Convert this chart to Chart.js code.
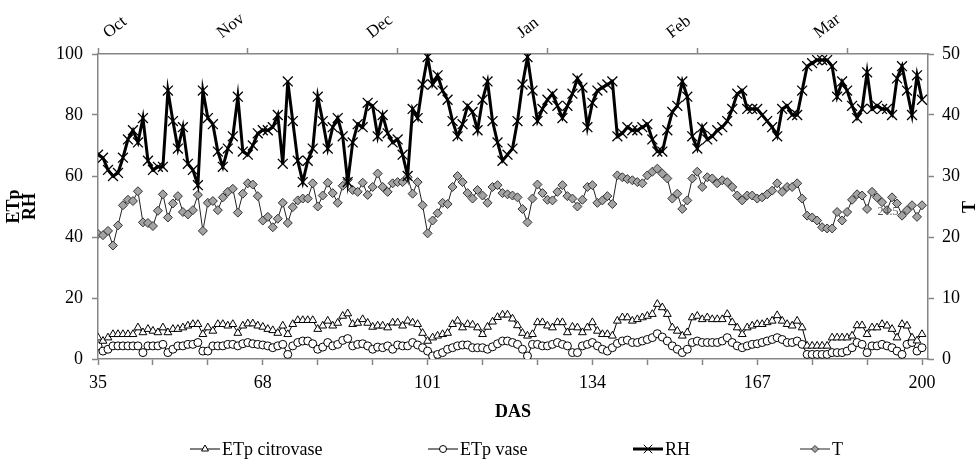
<!DOCTYPE html>
<html>
<head>
<meta charset="utf-8">
<script src="https://cdn.jsdelivr.net/npm/chart.js@4.4.1/dist/chart.umd.min.js"></script>
<style>
html, body { margin: 0; padding: 0; background: #fff; }
canvas { display: block; }
</style>
</head>
<body>
<canvas id="myChart" width="975" height="459"></canvas>
<script>
// days after sowing, one point per day
const das = [];
for (let d = 35; d <= 200; d++) das.push(d);

const etpCitrovase = [
  7, 5.9, 7, 8.1, 8.1, 8.1, 8.1, 8.1, 10.3, 8.7,
  9.8, 9.2, 8.7, 10.3, 8.7, 9.8, 9.8, 10.3, 10.9, 11.4,
  11.4, 8.1, 10.3, 9.2, 11.4, 11.4, 10.9, 11.4, 8.5, 10.9,
  11.6, 11.6, 10.9, 10.5, 9.8, 9.4, 8.5, 10.9, 8.1, 11.4,
  12.7, 12.7, 12.7, 12.7, 9.8, 10.9, 12.5, 10.9, 11.8, 14.1,
  14.9, 11.4, 11.8, 13, 11.8, 10.5, 10.9, 10.9, 10.3, 11.9,
  11.9, 10.9, 12.5, 11.9, 11.4, 8.5, 5.9, 7, 7.6, 8.1,
  8.5, 11.4, 12.5, 10.3, 11.4, 11.2, 10.3, 8.1, 10.5, 12.2,
  13.7, 14.5, 14.5, 13.2, 11, 8.5, 7.6, 8.1, 12, 12,
  10.9, 10.3, 12, 12, 8.7, 10.5, 10.3, 8.7, 10.3, 12,
  9.2, 8.1, 8.1, 7.6, 12.5, 13.6, 13.6, 12.5, 13, 13.6,
  14.1, 14.7, 18, 16.9, 14.7, 10.3, 9.2, 7.6, 8.7, 13.6,
  14.1, 13, 13.6, 13, 13, 13, 14.7, 12, 10.3, 8.1,
  10.3, 10.9, 11.4, 11.4, 12, 12.5, 14.3, 12.5, 11.4, 10.9,
  12.5, 10.3, 4.3, 4.3, 4.3, 4.3, 4.3, 7, 7, 7,
  7, 7.6, 11, 11, 8.1, 10.3, 10.3, 11.4, 10.9, 9.8,
  7, 11.4, 10.9, 7, 6, 8.1
];

const etpVase = [
  4.3, 2.6, 3.2, 4.3, 4.3, 4.3, 4.3, 4.3, 4.3, 2.1,
  4.3, 4.3, 4.3, 4.8, 2.1, 3.2, 4.3, 4.3, 4.8, 4.8,
  5.4, 2.6, 2.6, 4.3, 4.3, 4.3, 4.8, 4.8, 4.3, 5,
  5.4, 5, 4.8, 4.6, 4.3, 3.7, 4.3, 4.8, 1.5, 4.3,
  5.4, 5.9, 5.9, 5, 3.2, 3.9, 5.4, 4.3, 4.8, 6.1,
  6.7, 4.3, 4.8, 5, 4.3, 3.2, 3.9, 3.7, 4.3, 3.2,
  4.6, 4.3, 4.3, 5.4, 4.6, 3.7, 2.6, 1, 1.5, 2.1,
  3.2, 3.7, 4.3, 4.6, 4.6, 3.7, 3.7, 3.7, 3.2, 4,
  5, 5.9, 5.9, 5.4, 4.8, 3.2, 1, 4.8, 4.8, 4.3,
  4.3, 4.8, 5.4, 4.8, 4.3, 2.1, 2.1, 4.3, 4.8, 5.4,
  4.3, 3.2, 2.6, 3.7, 5.1, 5.9, 6.2, 5.4, 5.4, 5.9,
  6.4, 7, 8.3, 7.2, 5.9, 4.3, 3.2, 2.1, 3.2, 5.4,
  5.9, 5.4, 5.4, 5.4, 5.4, 5.9, 7, 5.4, 4.3, 3.7,
  4.3, 4.8, 5, 5.4, 5.9, 6.4, 7, 6.4, 5.4, 5.4,
  5.9, 4.8, 1.5, 1.5, 1.5, 1.5, 1.5, 2.1, 2.1, 2.1,
  2.6, 3.7, 5.4, 4.8, 2.1, 4.3, 4.3, 4.8, 4.3, 3.7,
  2.6, 1.5, 4.8, 5.4, 2.6, 3.7
];

const rh = [
  67, 66, 62, 60, 61, 66, 72, 75, 71, 79,
  65, 62, 63, 63, 88, 78, 69, 76, 64, 62,
  57, 88, 79, 77, 68, 63, 69, 73, 86, 68,
  67, 70, 74, 75, 75, 76, 80, 64, 91, 78,
  65, 58, 65, 69, 86, 78, 69, 76, 79, 73,
  58, 71, 77, 76, 84, 83, 73, 80, 74, 71,
  72, 67, 60, 82, 79, 90, 99, 90, 93, 88,
  85, 78, 73, 77, 83, 81, 75, 85, 91, 78,
  71, 65, 67, 69, 78, 90, 99, 88, 78, 82,
  85, 87, 83, 79, 83, 87, 92, 89, 76, 84,
  88, 89, 90, 91, 73, 74, 76, 75, 75, 76,
  77, 72, 68, 68, 75, 81, 83, 91, 86, 73,
  69, 76, 72, 73, 75, 76, 78, 82, 87, 88,
  82, 82, 82, 80, 78, 76, 73, 82, 83, 80,
  80, 88, 96, 97, 98, 98, 98, 96, 86, 91,
  88, 83, 79, 82, 94, 82, 83, 82, 82, 80,
  92, 96, 88, 80, 93, 85
];

// temperature, right axis
const temp = [
  20.5, 20.3, 21, 18.6, 21.9, 25.2, 26.1, 25.9, 27.5, 22.4,
  22.3, 21.8, 24.3, 27, 23.2, 25.5, 26.7, 24.1, 23.7, 24.4,
  26.9, 21, 25.6, 25.9, 24.4, 26.5, 27.4, 27.9, 24, 27.1,
  28.8, 28.6, 26.7, 22.7, 23.3, 21.6, 23, 25.6, 22.3, 24.9,
  26, 26.3, 26.3, 28.8, 25, 26.8, 28.9, 27.2, 25.6, 28.4,
  29.4, 27.7, 27.4, 28.9, 26.9, 28.2, 30.4, 28.2, 27.4, 28.8,
  29, 29, 29.8, 27.1, 29, 25.2, 20.6, 22.7, 23.9, 25.6,
  25.4, 28.2, 30, 29, 27.2, 26.3, 27.7, 26.8, 25.6, 28.2,
  28.5, 27.2, 27, 26.8, 26.5, 24.6, 22.4, 26.3, 28.6, 27.2,
  26.1, 26, 27.4, 28.5, 26.7, 26.3, 25, 26.1, 28.2, 28.5,
  25.6, 26, 26.7, 25.4, 30.1, 29.8, 29.5, 29.3, 29, 28.8,
  30.1, 30.7, 31.2, 30.4, 29.6, 26.3, 27.1, 24.6, 26, 29.6,
  30.7, 28.2, 29.8, 29.6, 28.8, 29.3, 29, 28.2, 26.8, 26,
  26.8, 26.8, 26.3, 26.5, 27, 27.6, 28.8, 27.4, 28.2, 28.2,
  28.8, 26.3, 23.5, 23.2, 22.7, 21.6, 21.4, 21.4, 24.1, 22.7,
  24.1, 26.1, 27, 26.8, 24.6, 27.4, 26.5, 25.7, 24.4, 26.5,
  25.5, 23.5, 24.4, 25.2, 23.3, 25.2
];

const dasLabels = [35, 68, 101, 134, 167, 200];
const leftTicks = [0, 20, 40, 60, 80, 100];
const rightTicks = [0, 10, 20, 30, 40, 50];
const monthNames = ['Oct', 'Nov', 'Dec', 'Jan', 'Feb', 'Mar'];
const monthTicks = [35, 65, 95, 125, 155, 185];
const monthLabelAt = [39, 61.8, 91.8, 121.8, 151.8, 181.3];
const strayLabel = { text: '24.5', das: 193.2, t: 24.1 };

const dasMinor = [];
for (let v = 35; v <= 200; v += 11) dasMinor.push(v);

const serif = "'Liberation Serif', 'Times New Roman', serif";
const gray = '#868686';

const pts = arr => das.map((d, i) => ({ x: d, y: arr[i] }));

// legend under the axis title + the rotated T + stray data label
const extras = {
  id: 'extras',
  afterDraw(chart) {
    const ctx = chart.ctx;
    const y = 449;
    const spots = [190, 428, 633, 800];
    chart.data.datasets.forEach((ds, i) => {
      const x0 = spots[i];
      ctx.save();
      ctx.strokeStyle = ds.borderColor;
      ctx.lineWidth = ds.borderWidth;
      ctx.beginPath();
      ctx.moveTo(x0, y);
      ctx.lineTo(x0 + 30, y);
      ctx.stroke();
      ctx.fillStyle = ds.pointBackgroundColor;
      ctx.strokeStyle = ds.pointBorderColor;
      ctx.lineWidth = 1;
      Chart.helpers.drawPoint(ctx, { pointStyle: ds.pointStyle, radius: ds.legendRadius, borderWidth: 1, rotation: 0 }, x0 + 15, y);
      ctx.fillStyle = '#000';
      ctx.font = '18px ' + serif;
      ctx.textBaseline = 'middle';
      ctx.textAlign = 'left';
      ctx.fillText(ds.label, x0 + 32, y + 1);
      ctx.restore();
    });

    ctx.save();
    ctx.translate(970, 207);
    ctx.rotate(-Math.PI / 2);
    ctx.font = 'bold 18px ' + serif;
    ctx.fillStyle = '#000';
    ctx.textAlign = 'center';
    ctx.textBaseline = 'middle';
    ctx.fillText('T', 0, 0);
    ctx.restore();

    ctx.save();
    ctx.font = '12px ' + serif;
    ctx.fillStyle = '#555';
    ctx.textAlign = 'center';
    ctx.textBaseline = 'middle';
    ctx.fillText(strayLabel.text, chart.scales.x.getPixelForValue(strayLabel.das), chart.scales.y2.getPixelForValue(strayLabel.t));
    ctx.restore();
  }
};

const ctx = document.getElementById('myChart').getContext('2d');
const chart = new Chart(ctx, {
  type: 'line',
  data: {
    datasets: [
      {
        label: 'ETp citrovase', data: pts(etpCitrovase), yAxisID: 'y',
        borderColor: '#000', borderWidth: 1,
        pointStyle: 'triangle', pointRadius: 4.5, pointBackgroundColor: '#fff',
        pointBorderColor: '#000', pointBorderWidth: 1, legendRadius: 4
      },
      {
        label: 'ETp vase', data: pts(etpVase), yAxisID: 'y',
        borderColor: '#000', borderWidth: 1,
        pointStyle: 'circle', pointRadius: 4, pointBackgroundColor: '#fff',
        pointBorderColor: '#000', pointBorderWidth: 1, legendRadius: 3.5
      },
      {
        label: 'RH', data: pts(rh), yAxisID: 'y',
        borderColor: '#000', borderWidth: 3,
        pointStyle: 'crossRot', pointRadius: 7, pointBackgroundColor: '#000',
        pointBorderColor: '#000', pointBorderWidth: 1.3, legendRadius: 6
      },
      {
        label: 'T', data: pts(temp), yAxisID: 'y2',
        borderColor: '#222', borderWidth: 1,
        pointStyle: 'rectRot', pointRadius: 4.5, pointBackgroundColor: '#a3a3a3',
        pointBorderColor: '#333', pointBorderWidth: 1, legendRadius: 3.5
      }
    ]
  },
  options: {
    responsive: false,
    animation: false,
    events: [],
    devicePixelRatio: 1,
    layout: { padding: { left: 0, right: 0, top: 0, bottom: 30 } },
    plugins: { legend: { display: false }, tooltip: { enabled: false } },
    scales: {
      x: {
        type: 'linear', position: 'bottom', min: 35, max: 201.2,
        afterBuildTicks: s => { s.ticks = dasMinor.map(v => ({ value: v })); },
        ticks: {
          autoSkip: false, maxRotation: 0, padding: 7, color: '#000',
          font: { family: serif, size: 18 },
          callback: v => dasLabels.includes(v) ? String(v) : ''
        },
        grid: { drawOnChartArea: false, tickLength: 6, color: gray, tickWidth: 1.5 },
        border: { color: gray, width: 1.5 },
        title: {
          display: true, text: 'DAS', color: '#000',
          font: { family: serif, size: 18, weight: 'bold' },
          padding: { top: 0, bottom: 6 }
        },
        afterFit: s => { s.height = 70; }
      },
      xMonth: {
        type: 'linear', position: 'top', min: 35, max: 201.2, weight: 2,
        afterBuildTicks: s => { s.ticks = monthLabelAt.map(v => ({ value: v })); },
        ticks: {
          autoSkip: false, minRotation: 38, maxRotation: 38, padding: 3, color: '#000',
          font: { family: serif, size: 17 },
          callback: (v, i) => monthNames[i]
        },
        grid: { display: false, drawTicks: false },
        border: { display: false },
        afterFit: s => { s.height = 46; }
      },
      xTop: {
        type: 'linear', position: 'top', min: 35, max: 201.2, weight: 1,
        afterBuildTicks: s => { s.ticks = monthTicks.map(v => ({ value: v })); },
        ticks: { display: false },
        grid: { drawOnChartArea: false, tickLength: 6, color: gray, tickWidth: 1.5 },
        border: { color: gray, width: 1.5 },
        afterFit: s => { s.height = 8; }
      },
      y: {
        type: 'linear', position: 'left', min: 0, max: 100,
        afterBuildTicks: s => { s.ticks = leftTicks.map(v => ({ value: v })); },
        ticks: { padding: 9, color: '#000', font: { family: serif, size: 18 } },
        grid: { drawOnChartArea: false, tickLength: 6, color: gray, tickWidth: 1.5 },
        border: { color: gray, width: 1.5 },
        title: {
          display: true, text: ['ETp', 'RH'], color: '#000',
          font: { family: serif, size: 18, weight: 'bold', lineHeight: 0.85 },
          padding: { top: 7, bottom: 0 }
        },
        afterFit: s => { s.width = 98; }
      },
      y2: {
        type: 'linear', position: 'right', min: 0, max: 50,
        afterBuildTicks: s => { s.ticks = rightTicks.map(v => ({ value: v })); },
        ticks: { padding: 8, color: '#000', font: { family: serif, size: 18 } },
        grid: { drawOnChartArea: false, tickLength: 6, color: gray, tickWidth: 1.5 },
        border: { color: gray, width: 1.5 },
        afterFit: s => { s.width = 47; }
      }
    }
  },
  plugins: [extras]
});
</script>
</body>
</html>
